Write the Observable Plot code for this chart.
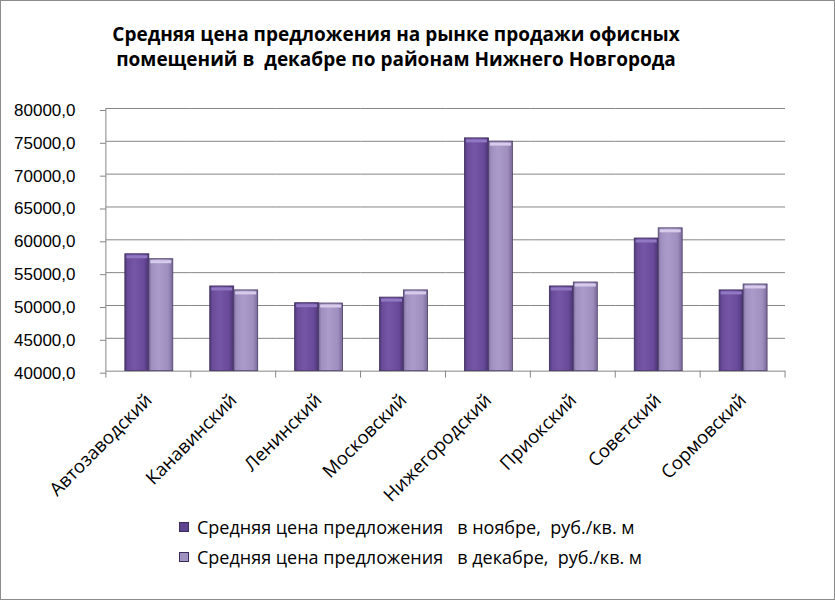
<!DOCTYPE html>
<html><head><meta charset="utf-8">
<script src="https://cdn.jsdelivr.net/npm/d3@7"></script>
<script src="https://cdn.jsdelivr.net/npm/@observablehq/plot@0.6"></script>
<style>
body{margin:0;background:#fff}
#wrap{position:relative;width:835px;height:600px;box-sizing:border-box;border:1px solid #8c8c8c;font-family:"Open Sans",sans-serif;overflow:hidden;background:#fff}
#title{position:absolute;left:0;width:790px;top:21px;text-align:center;font-weight:bold;font-size:19px;line-height:25px;color:#000}
#chart{position:absolute;left:-1px;top:88px}
#legend{position:absolute;left:178px;top:511px;font-size:18px;color:#000}
.row{height:30px;display:flex;align-items:center;white-space:pre}
.sw{width:10px;height:10px;margin-right:8px;border:1px solid #3b2d5a;box-sizing:border-box}
</style></head>
<body>
<div id="wrap">
<div id="title">Средняя цена предложения на рынке продажи офисных<br>помещений в&nbsp; декабре по районам Нижнего Новгорода</div>
<div id="chart"></div>
<div id="legend"></div>
</div>
<script>
const districts = ["Автозаводский","Канавинский","Ленинский","Московский","Нижегородский","Приокский","Советский","Сормовский"];
const novValues = [57800, 52900, 50350, 51200, 75450, 52900, 60200, 52300];
const decValues = [57050, 52300, 50300, 52300, 74950, 53500, 61750, 53200];
const seriesKeys = ["nov","dec"];
const seriesNames = ["Средняя цена предложения   в ноябре,  руб./кв. м","Средняя цена предложения   в декабре,  руб./кв. м"];
const yTicks = [40000,45000,50000,55000,60000,65000,70000,75000,80000];

const data = districts.flatMap((d,i)=>[
  {district:d, series:"nov", value:novValues[i]},
  {district:d, series:"dec", value:decValues[i]}
]);
const novData = data.filter(d=>d.series==="nov");
const decData = data.filter(d=>d.series==="dec");

const plot = Plot.plot({
  width:835, height:430,
  marginTop:19, marginBottom:148, marginLeft:104, marginRight:47,
  style:{background:"transparent", color:"#000", overflow:"visible"},
  fx:{domain:districts, padding:0, label:null},
  x:{domain:seriesKeys, paddingInner:0, paddingOuter:0.75, axis:null},
  y:{domain:[40000,80000], label:null},
  marks:[
    Plot.gridY(yTicks, {stroke:"#868686", strokeOpacity:1, strokeWidth:1}),
    Plot.barY(novData, {fx:"district", x:"series", y1:40000, y2:"value", fill:"url(#gNov)", stroke:"#3b2d5a", strokeWidth:0.8}),
    Plot.barY(decData, {fx:"district", x:"series", y1:40000, y2:"value", fill:"url(#gDec)", stroke:"#4a3d66", strokeWidth:0.8}),
    Plot.tickY(novData, {fx:"district", x:"series", y:"value", stroke:"#9178c2", strokeWidth:3, dy:2.5, insetLeft:1.5, insetRight:1.5}),
    Plot.tickY(decData, {fx:"district", x:"series", y:"value", stroke:"#d6cbea", strokeWidth:3, dy:2.5, insetLeft:1.5, insetRight:1.5}),
    Plot.axisY(yTicks, {tickSize:6, tickPadding:25, stroke:"#868686", tickFormat:d=>d.toFixed(1).replace(".",","), fontSize:17, fontFamily:"Liberation Sans", dy:2, label:null}),
    Plot.axisFx({anchor:"bottom", tickRotate:-45, tickSize:0, tickPadding:26, dx:0, fontSize:18.5, fontFamily:"Open Sans", label:null})
  ]
});
document.getElementById("chart").appendChild(plot);

// gradients and axis lines
const svg = d3.select(plot);
const defs = svg.insert("defs", ":first-child");
function grad(id, stops){
  const g = defs.append("linearGradient").attr("id", id).attr("x1","0").attr("x2","1").attr("y1","0").attr("y2","0");
  stops.forEach(([o,c])=>g.append("stop").attr("offset",o).attr("stop-color",c));
}
grad("gNov", [[0,"#4f3878"],[0.12,"#6a4c9a"],[0.4,"#7556a6"],[0.8,"#68499a"],[1,"#4a3470"]]);
grad("gDec", [[0,"#7e6d9f"],[0.12,"#a090c0"],[0.4,"#ab9bca"],[0.8,"#9f8fbe"],[1,"#7a6a9a"]]);

const fx = plot.scale("fx"), y = plot.scale("y");
const y0 = y.apply(40000), yTop = y.apply(80000);
const left = fx.apply(districts[0]);
svg.append("line").attr("x1",left).attr("x2",left).attr("y1",yTop).attr("y2",y0).attr("stroke","#868686");
const bw = fx.bandwidth;
districts.forEach((d)=>{
  const xs = fx.apply(d) + bw;
  svg.append("line").attr("x1",xs).attr("x2",xs).attr("y1",y0).attr("y2",y0+7).attr("stroke","#868686");
});
svg.append("line").attr("x1",left).attr("x2",left).attr("y1",y0).attr("y2",y0+7).attr("stroke","#868686");

// legend
const legend = d3.select("#legend");
const swColors = ["#5e4390","#a092c0"];
seriesNames.forEach((n,i)=>{
  const r = legend.append("div").attr("class","row");
  r.append("div").attr("class","sw").style("background", swColors[i]);
  r.append("span").text(n);
});
</script>
</body></html>
